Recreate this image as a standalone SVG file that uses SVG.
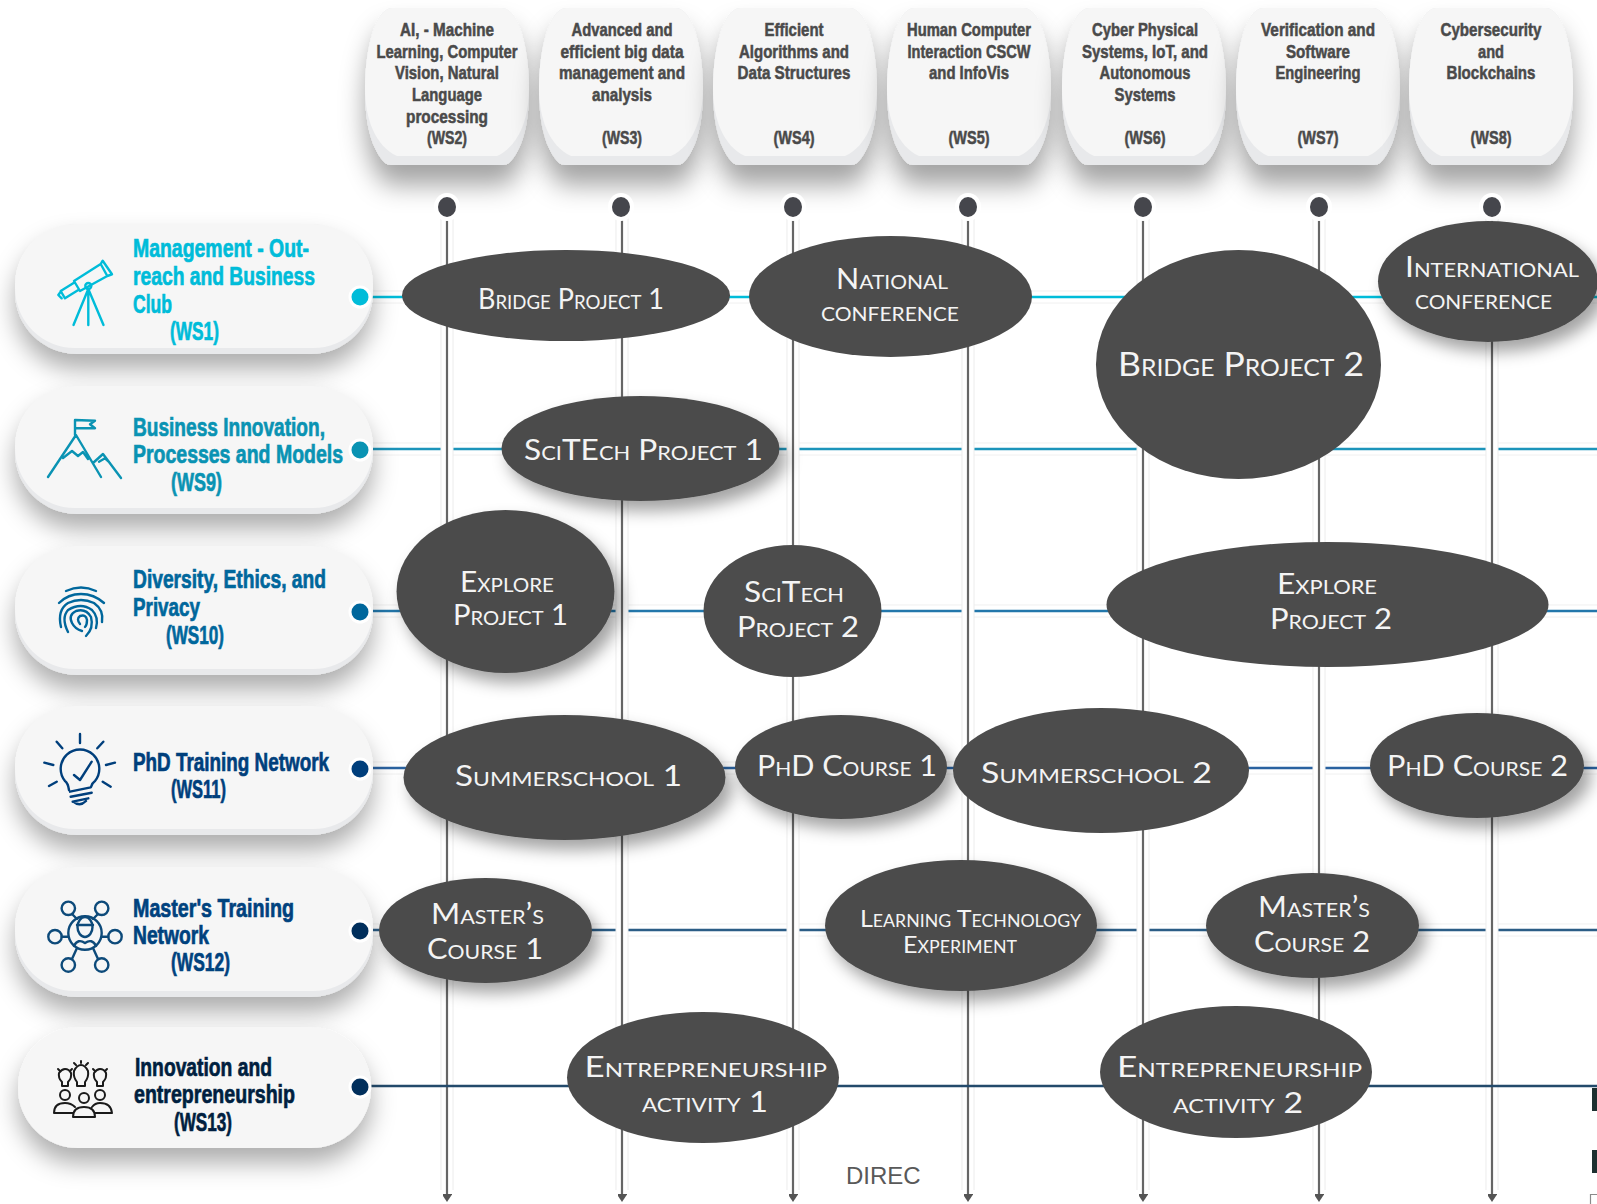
<svg xmlns="http://www.w3.org/2000/svg" xmlns:xlink="http://www.w3.org/1999/xlink" width="1597" height="1204" viewBox="0 0 1597 1204">
<style>
text{font-family:"Liberation Sans Narrow","Liberation Sans",sans-serif}
.h{font-size:19px;font-weight:700;fill:#4a4a4a;stroke:#4a4a4a;stroke-width:.55;text-anchor:middle}
.p{font-size:26px;font-weight:700;fill:currentColor;stroke:currentColor;stroke-width:.7}
.e{font-family:Lato,"Open Sans",sans-serif;font-variant:small-caps;font-size:29px;fill:#f4f4f4}
.ell{fill:#4c4c4c}
.rc{fill:none;stroke:#f0f0f0;stroke-width:13}
.rw{fill:none;stroke:#fff;stroke-width:11}
.vc{fill:none;stroke:#ececec;stroke-width:13}
.vw{fill:none;stroke:#fff;stroke-width:11}
.v{fill:none;stroke:#666;stroke-width:2.2;marker-end:url(#arrow)}
.r{fill:none;stroke-width:2.6}
.ic{fill:none;stroke:currentColor;stroke-width:2.4;stroke-linecap:round;stroke-linejoin:round}
.halo{fill:#fff}
.dot{fill:#45464c}
.base{fill:#e8e9eb}
.face{fill:#f6f6f6}
</style>
<defs>
<marker id="arrow" markerUnits="userSpaceOnUse" markerWidth="12" markerHeight="9" refX="1" refY="4.5" orient="auto"><path d="M0 0L8 4.5L0 9Z" transform="scale(1 1.2) translate(0 -.75)" fill="#555"/></marker>
<filter id="sh" x="-30%" y="-40%" width="160%" height="200%"><feDropShadow dx="0" dy="15" stdDeviation="12" flood-color="#000" flood-opacity=".32"/></filter>
<filter id="sc" x="-40%" y="-30%" width="180%" height="190%"><feDropShadow dx="0" dy="20" stdDeviation="13" flood-color="#000" flood-opacity=".36"/></filter>
<filter id="se" x="-30%" y="-30%" width="160%" height="170%"><feDropShadow dx="7" dy="10" stdDeviation="8" flood-color="#000" flood-opacity=".36"/></filter>
<g id="card">
<path class="base" d="M-55 8L55 8C72 8 82 50 82 90C82 125 75 150 62 163Q60 165 56 165L-56 165Q-60 165-62 163C-75 150-82 125-82 90C-82 50-72 8-55 8Z" filter="url(#sc)"/>
<path class="face" d="M-55 8L55 8C72 8 82 50 82 88C82 118 72 146 50 156L-50 156C-72 146-82 118-82 88C-82 50-72 8-55 8Z"/>
</g>
</defs>
<rect width="1597" height="1204" fill="#fff"/>
<g id="connectors">
<g id="row-casing">
<path class="rc" d="M372 297H1597M372 449H1597M372 611H1597M372 768H1597M372 930H1597"/>
<path class="rw" d="M372 297H1597M372 449H1597M372 611H1597M372 768H1597M372 930H1597"/>
</g>
<path class="r" stroke="#00bcd9" d="M360 297H1597"/>
<path class="r" stroke="#1c94ba" d="M360 449H1597"/>
<path class="r" stroke="#2377ab" d="M360 611H1597"/>
<path class="r" stroke="#2a62a0" d="M360 768H1597"/>
<path class="r" stroke="#2b5d86" d="M360 930H1597"/>
<g id="col-casing">
<path class="vc" d="M447 215V1190M622 215V1190M793 215V1190M968 215V1190M1143 215V1190M1319 215V1190M1492 215V1190"/>
<path class="vw" d="M447 215V1196M622 215V1196M793 215V1196M968 215V1196M1143 215V1196M1319 215V1196M1492 215V1196"/>
</g>
<path class="v" d="M447 207V1195"/>
<path class="v" d="M622 207V1195"/>
<path class="v" d="M793 207V1195"/>
<path class="v" d="M968 207V1195"/>
<path class="v" d="M1143 207V1195"/>
<path class="v" d="M1319 207V1195"/>
<path class="v" d="M1492 207V1195"/>
<path class="r" stroke="#234a6b" d="M360 1086H1597"/>
</g>

<g id="ws2"><use xlink:href="#card" href="#card" x="447"/><ellipse class="halo" cx="447" cy="207" rx="13" ry="14"/><ellipse class="dot" cx="447" cy="207" rx="9" ry="10"/>
<text class="h" x="447" y="35.500" textLength="94" lengthAdjust="spacingAndGlyphs">AI, - Machine</text>
<text class="h" x="447" y="57.500" textLength="141" lengthAdjust="spacingAndGlyphs">Learning, Computer</text>
<text class="h" x="447" y="79" textLength="104" lengthAdjust="spacingAndGlyphs">Vision, Natural</text>
<text class="h" x="447" y="100.500" textLength="70" lengthAdjust="spacingAndGlyphs">Language</text>
<text class="h" x="447" y="122.500" textLength="82" lengthAdjust="spacingAndGlyphs">processing</text>
<text class="h" x="447" y="144" textLength="40" lengthAdjust="spacingAndGlyphs">(WS2)</text></g>

<g id="ws3"><use xlink:href="#card" href="#card" x="621"/><ellipse class="halo" cx="621" cy="207" rx="13" ry="14"/><ellipse class="dot" cx="621" cy="207" rx="9" ry="10"/>
<text class="h" x="622" y="35.500" textLength="101" lengthAdjust="spacingAndGlyphs">Advanced and</text>
<text class="h" x="622" y="57.500" textLength="123" lengthAdjust="spacingAndGlyphs">efficient big data</text>
<text class="h" x="622" y="79" textLength="126" lengthAdjust="spacingAndGlyphs">management and</text>
<text class="h" x="622" y="100.500" textLength="60" lengthAdjust="spacingAndGlyphs">analysis</text>
<text class="h" x="622" y="144" textLength="40" lengthAdjust="spacingAndGlyphs">(WS3)</text></g>

<g id="ws4"><use xlink:href="#card" href="#card" x="795"/><ellipse class="halo" cx="793" cy="207" rx="13" ry="14"/><ellipse class="dot" cx="793" cy="207" rx="9" ry="10"/>
<text class="h" x="794" y="35.500" textLength="59" lengthAdjust="spacingAndGlyphs">Efficient</text>
<text class="h" x="794" y="57.500" textLength="110" lengthAdjust="spacingAndGlyphs">Algorithms and</text>
<text class="h" x="794" y="79" textLength="113" lengthAdjust="spacingAndGlyphs">Data Structures</text>
<text class="h" x="794" y="144" textLength="41" lengthAdjust="spacingAndGlyphs">(WS4)</text></g>

<g id="ws5"><use xlink:href="#card" href="#card" x="969"/><ellipse class="halo" cx="968" cy="207" rx="13" ry="14"/><ellipse class="dot" cx="968" cy="207" rx="9" ry="10"/>
<text class="h" x="969" y="35.500" textLength="124" lengthAdjust="spacingAndGlyphs">Human Computer</text>
<text class="h" x="969" y="57.500" textLength="123" lengthAdjust="spacingAndGlyphs">Interaction CSCW</text>
<text class="h" x="969" y="79" textLength="80" lengthAdjust="spacingAndGlyphs">and InfoVis</text>
<text class="h" x="969" y="144" textLength="41" lengthAdjust="spacingAndGlyphs">(WS5)</text></g>

<g id="ws6"><use xlink:href="#card" href="#card" x="1144"/><ellipse class="halo" cx="1143" cy="207" rx="13" ry="14"/><ellipse class="dot" cx="1143" cy="207" rx="9" ry="10"/>
<text class="h" x="1145" y="35.500" textLength="106" lengthAdjust="spacingAndGlyphs">Cyber Physical</text>
<text class="h" x="1145" y="57.500" textLength="126" lengthAdjust="spacingAndGlyphs">Systems, IoT, and</text>
<text class="h" x="1145" y="79" textLength="91" lengthAdjust="spacingAndGlyphs">Autonomous</text>
<text class="h" x="1145" y="100.500" textLength="61" lengthAdjust="spacingAndGlyphs">Systems</text>
<text class="h" x="1145" y="144" textLength="41" lengthAdjust="spacingAndGlyphs">(WS6)</text></g>

<g id="ws7"><use xlink:href="#card" href="#card" x="1318"/><ellipse class="halo" cx="1319" cy="207" rx="13" ry="14"/><ellipse class="dot" cx="1319" cy="207" rx="9" ry="10"/>
<text class="h" x="1318" y="35.500" textLength="114" lengthAdjust="spacingAndGlyphs">Verification and</text>
<text class="h" x="1318" y="57.500" textLength="64" lengthAdjust="spacingAndGlyphs">Software</text>
<text class="h" x="1318" y="79" textLength="85" lengthAdjust="spacingAndGlyphs">Engineering</text>
<text class="h" x="1318" y="144" textLength="41" lengthAdjust="spacingAndGlyphs">(WS7)</text></g>

<g id="ws8"><use xlink:href="#card" href="#card" x="1491"/><ellipse class="halo" cx="1492" cy="207" rx="13" ry="14"/><ellipse class="dot" cx="1492" cy="207" rx="9" ry="10"/>
<text class="h" x="1491" y="35.500" textLength="101" lengthAdjust="spacingAndGlyphs">Cybersecurity</text>
<text class="h" x="1491" y="57.500" textLength="26" lengthAdjust="spacingAndGlyphs">and</text>
<text class="h" x="1491" y="79" textLength="89" lengthAdjust="spacingAndGlyphs">Blockchains</text>
<text class="h" x="1491" y="144" textLength="41" lengthAdjust="spacingAndGlyphs">(WS8)</text></g>

<g id="ws1" color="#00bcd9">
<rect class="base" x="15" y="224" width="358" height="130" rx="62" filter="url(#sh)"/><rect class="face" x="15" y="224" width="358" height="124" rx="60"/>
<g class="ic"><path d="M74 281L100.700 264L107.300 276L80 291ZM100.700 264L102.700 260.700L112 274.300L107.300 276M74 282.700L60.700 291L65 298.300L78.300 290M60.700 291.700L58.300 295L61.700 298.300M88.300 289L73.500 325M88.300 289V325M88.300 289L103.500 325"/><circle cx="88.300" cy="286" r="3"/></g>
<text class="p" x="133" y="257" textLength="176" lengthAdjust="spacingAndGlyphs">Management - Out-</text>
<text class="p" x="133" y="285" textLength="182" lengthAdjust="spacingAndGlyphs">reach and Business</text>
<text class="p" x="133" y="313" textLength="39" lengthAdjust="spacingAndGlyphs">Club</text>
<text class="p" x="170" y="340" textLength="49" lengthAdjust="spacingAndGlyphs">(WS1)</text>
<circle class="halo" cx="360" cy="297" r="11.500"/><circle cx="360" cy="297" r="8.500" fill="currentColor"/></g>

<g id="ws9" color="#0a93b3">
<rect class="base" x="15" y="386" width="358" height="128" rx="62" filter="url(#sh)"/><rect class="face" x="15" y="386" width="358" height="122" rx="60"/>
<g class="ic"><path d="M75 435V420L95 420.700L90 424.300L95 428.300H75M48 477L76 435L101 477M63 458L72 451L78 456L83 452L88 459M93 463L103 454L121 478M99 461.700L105 458.300L110 463"/></g>
<text class="p" x="133" y="436" textLength="192" lengthAdjust="spacingAndGlyphs">Business Innovation,</text>
<text class="p" x="133" y="463" textLength="210" lengthAdjust="spacingAndGlyphs">Processes and Models</text>
<text class="p" x="171" y="491" textLength="51" lengthAdjust="spacingAndGlyphs">(WS9)</text>
<circle class="halo" cx="360" cy="450" r="11.500"/><circle cx="360" cy="450" r="8.500" fill="currentColor"/></g>

<g id="ws10" color="#00679c">
<rect class="base" x="15" y="546" width="358" height="129" rx="62" filter="url(#sh)"/><rect class="face" x="15" y="546" width="358" height="123" rx="60"/>
<g class="ic"><path d="M66 591Q81 584 96 591M59 603Q68 594 81 594Q94 594 104 603M61 627Q57 610 68 603Q81 597 94 603Q104 610 102 622M68 632Q61 618 68 610Q81 602 92 610Q99 617 96 628M86 636Q94 628 91 617Q86 608 76 611Q68 615 72 623Q75 629 82 631M80 624Q76 619 80 616Q86 614 87 620Q87 625 85 627"/></g>
<text class="p" x="133" y="588" textLength="193" lengthAdjust="spacingAndGlyphs">Diversity, Ethics, and</text>
<text class="p" x="133" y="616" textLength="67" lengthAdjust="spacingAndGlyphs">Privacy</text>
<text class="p" x="166" y="644" textLength="58" lengthAdjust="spacingAndGlyphs">(WS10)</text>
<circle class="halo" cx="360" cy="612" r="11.500"/><circle cx="360" cy="612" r="8.500" fill="currentColor"/></g>

<g id="ws11" color="#003f7c">
<rect class="base" x="15" y="706" width="358" height="129" rx="62" filter="url(#sh)"/><rect class="face" x="15" y="706" width="358" height="123" rx="60"/>
<g class="ic"><path d="M69 790Q68 783 65 781A19.300 19.300 0 1 1 95 781Q92 783 91 787M80 734V743M56.700 741.700L62.300 748.300M103.300 741.700L97.300 748.300M44.300 762.700L53.300 765M115 762.700L106 765M49 786L56.700 781.700M110.700 786.700L102.700 781.700M70 791.700L90.700 787.300M70.700 796.700L91.700 792.700M72.700 801.700L88.300 798.300M74 802Q80 807 86 801M74 775L80 780L91.700 761.700"/></g>
<text class="p" x="133" y="771" textLength="196" lengthAdjust="spacingAndGlyphs">PhD Training Network</text>
<text class="p" x="171" y="798" textLength="55" lengthAdjust="spacingAndGlyphs">(WS11)</text>
<circle class="halo" cx="360" cy="769" r="11.500"/><circle cx="360" cy="769" r="8.500" fill="currentColor"/></g>

<g id="ws12" color="#00427e">
<rect class="base" x="15" y="867" width="358" height="130" rx="62" filter="url(#sh)"/><rect class="face" x="15" y="867" width="358" height="124" rx="60"/>
<g class="ic" color="#0d4a7a"><circle cx="85" cy="933" r="16.700"/><circle cx="68.300" cy="908.300" r="6.700"/><circle cx="101.700" cy="908.300" r="6.700"/><circle cx="55" cy="936.700" r="6.700"/><circle cx="115" cy="936.700" r="6.700"/><circle cx="68.300" cy="965" r="6.700"/><circle cx="101.700" cy="965" r="6.700"/><path d="M72 914L77 919M98 914L93 919M61.700 936.700H68.300M108.300 936.700H101.700M72 959L77 948M98 959L93 948"/><ellipse cx="85" cy="927" rx="7.500" ry="10"/><path d="M77 925H93M74 946Q78 938 85 943Q92 938 96 946"/></g>
<text class="p" x="133" y="917" textLength="161" lengthAdjust="spacingAndGlyphs">Master's Training</text>
<text class="p" x="133" y="944" textLength="76" lengthAdjust="spacingAndGlyphs">Network</text>
<text class="p" x="171" y="971" textLength="59" lengthAdjust="spacingAndGlyphs">(WS12)</text>
<circle class="halo" cx="360" cy="931" r="11.500"/><circle cx="360" cy="931" r="8.500" fill="#012f5c"/></g>

<g id="ws13" color="#001f3f">
<rect class="face" x="18" y="1027" width="353" height="121" rx="60" filter="url(#sh)"/>
<g class="ic" color="#1a1a1a" style="stroke-width:2"><path d="M62 1086V1082Q58 1078 59 1073Q62 1069 65 1069Q69 1069 71 1073Q72 1078 68 1082V1086ZM77 1086V1082Q73 1077 74 1071Q77 1065 81 1065Q85 1065 88 1071Q89 1077 85 1082V1086ZM97 1086V1082Q93 1078 94 1073Q97 1069 100 1069Q104 1069 106 1073Q107 1078 103 1082V1086ZM58 1069L60 1071M72 1069L70 1071M81 1061V1063M74 1063L76 1065M88 1063L86 1065M93 1069L95 1071M107 1069L105 1071"/><circle cx="65" cy="1095" r="5"/><circle cx="84" cy="1098" r="5"/><circle cx="100" cy="1095" r="5"/><path d="M54 1113Q54 1103 65 1103Q71 1103 75 1107M54 1113H73M73 1117Q73 1107 84 1107Q95 1107 95 1117ZM92 1107Q95 1103 100 1103Q111 1103 112 1113H95"/></g>
<text class="p" x="135" y="1076" textLength="137" lengthAdjust="spacingAndGlyphs">Innovation and</text>
<text class="p" x="134" y="1103" textLength="161" lengthAdjust="spacingAndGlyphs">entrepreneurship</text>
<text class="p" x="174" y="1131" textLength="58" lengthAdjust="spacingAndGlyphs">(WS13)</text>
<circle class="halo" cx="360" cy="1087" r="11.500"/><circle cx="360" cy="1087" r="8.500" fill="#012f5c"/></g>

<g id="bridge-project-1"><ellipse class="ell" cx="566" cy="295.500" rx="164" ry="45.500"/><text class="e" x="478" y="309" textLength="186" lengthAdjust="spacingAndGlyphs">Bridge Project 1</text></g>
<g id="national-conference"><ellipse class="ell" cx="890.500" cy="296.500" rx="141.500" ry="60.500"/><text class="e" x="836" y="289" textLength="112" lengthAdjust="spacingAndGlyphs">National</text><text class="e" x="821" y="321" textLength="138" lengthAdjust="spacingAndGlyphs">conference</text></g>
<g id="bridge-project-2"><ellipse class="ell" cx="1238.500" cy="364.500" rx="142.500" ry="114.500"/><text class="e" x="1118" y="376" textLength="246" lengthAdjust="spacingAndGlyphs" style="font-size:33px">Bridge Project 2</text></g>
<g id="international-conference"><ellipse class="ell" cx="1488" cy="281.500" rx="110" ry="60.500" filter="url(#se)"/><text class="e" x="1405" y="277" textLength="174" lengthAdjust="spacingAndGlyphs">International</text><text class="e" x="1415" y="309" textLength="137" lengthAdjust="spacingAndGlyphs">conference</text></g>
<g id="scitech-project-1"><ellipse class="ell" cx="640.500" cy="448.500" rx="139" ry="52.500" filter="url(#se)"/><text class="e" x="524" y="460" textLength="239" lengthAdjust="spacingAndGlyphs">SciTEch Project 1</text></g>
<g id="explore-project-1"><ellipse class="ell" cx="505.500" cy="591.500" rx="109" ry="81.500" filter="url(#se)"/><text class="e" x="460" y="592" textLength="94" lengthAdjust="spacingAndGlyphs">Explore</text><text class="e" x="453" y="625" textLength="115" lengthAdjust="spacingAndGlyphs">Project 1</text></g>
<g id="scitech-project-2"><ellipse class="ell" cx="792.500" cy="611" rx="89" ry="66"/><text class="e" x="744" y="602" textLength="100" lengthAdjust="spacingAndGlyphs">SciTech</text><text class="e" x="737" y="637" textLength="122" lengthAdjust="spacingAndGlyphs">Project 2</text></g>
<g id="explore-project-2"><ellipse class="ell" cx="1327.500" cy="604.500" rx="221" ry="62.500"/><text class="e" x="1277" y="594" textLength="100" lengthAdjust="spacingAndGlyphs">Explore</text><text class="e" x="1270" y="629" textLength="122" lengthAdjust="spacingAndGlyphs">Project 2</text></g>
<g id="summerschool-1"><ellipse class="ell" cx="564.500" cy="777.500" rx="161" ry="62.500" filter="url(#se)"/><text class="e" x="455" y="786" textLength="227" lengthAdjust="spacingAndGlyphs">Summerschool 1</text></g>
<g id="phd-course-1"><ellipse class="ell" cx="841" cy="767" rx="106" ry="52" filter="url(#se)"/><text class="e" x="757" y="776" textLength="180" lengthAdjust="spacingAndGlyphs">PhD Course 1</text></g>
<g id="summerschool-2"><ellipse class="ell" cx="1101" cy="770.500" rx="148" ry="62.500"/><text class="e" x="981" y="783" textLength="231" lengthAdjust="spacingAndGlyphs">Summerschool 2</text></g>
<g id="phd-course-2"><ellipse class="ell" cx="1477" cy="765.500" rx="107" ry="52.500" filter="url(#se)"/><text class="e" x="1387" y="776" textLength="181" lengthAdjust="spacingAndGlyphs">PhD Course 2</text></g>
<g id="masters-course-1"><ellipse class="ell" cx="485.500" cy="930.500" rx="106.500" ry="52.500" filter="url(#se)"/><text class="e" x="431" y="924" textLength="113" lengthAdjust="spacingAndGlyphs">Master’s</text><text class="e" x="427" y="959" textLength="116" lengthAdjust="spacingAndGlyphs">Course 1</text></g>
<g id="learning-technology-experiment"><ellipse class="ell" cx="961" cy="925.500" rx="136" ry="65.500" filter="url(#se)"/><text class="e" x="860" y="927" textLength="221" lengthAdjust="spacingAndGlyphs" style="font-size:24px">Learning Technology</text><text class="e" x="903" y="953" textLength="114" lengthAdjust="spacingAndGlyphs" style="font-size:24px">Experiment</text></g>
<g id="masters-course-2"><ellipse class="ell" cx="1312.500" cy="925.500" rx="106.500" ry="52.500" filter="url(#se)"/><text class="e" x="1258" y="917" textLength="112" lengthAdjust="spacingAndGlyphs">Master’s</text><text class="e" x="1254" y="952" textLength="116" lengthAdjust="spacingAndGlyphs">Course 2</text></g>
<g id="entrepreneurship-activity-1"><ellipse class="ell" cx="703" cy="1077.500" rx="136" ry="65.500"/><text class="e" x="584.500" y="1077" textLength="242.500" lengthAdjust="spacingAndGlyphs">Entrepreneurship</text><text class="e" x="642" y="1112" textLength="126" lengthAdjust="spacingAndGlyphs">activity 1</text></g>
<g id="entrepreneurship-activity-2"><ellipse class="ell" cx="1236" cy="1072" rx="136" ry="66"/><text class="e" x="1117" y="1077" textLength="245" lengthAdjust="spacingAndGlyphs">Entrepreneurship</text><text class="e" x="1173" y="1113" textLength="130" lengthAdjust="spacingAndGlyphs">activity 2</text></g>

<text id="direc" x="846" y="1184" style="font-family:'Liberation Sans',Arial,sans-serif;font-size:24px" fill="#595959">DIREC</text>
<g id="edge-fragments"><rect x="1592" y="1088" width="5" height="23" fill="#1d3030"/><rect x="1592" y="1150" width="5" height="23" fill="#1d3030"/><path d="M1590.500 1204V1194.500H1597" fill="none" stroke="#8a8a8a" stroke-width="1.200"/></g>
</svg>
